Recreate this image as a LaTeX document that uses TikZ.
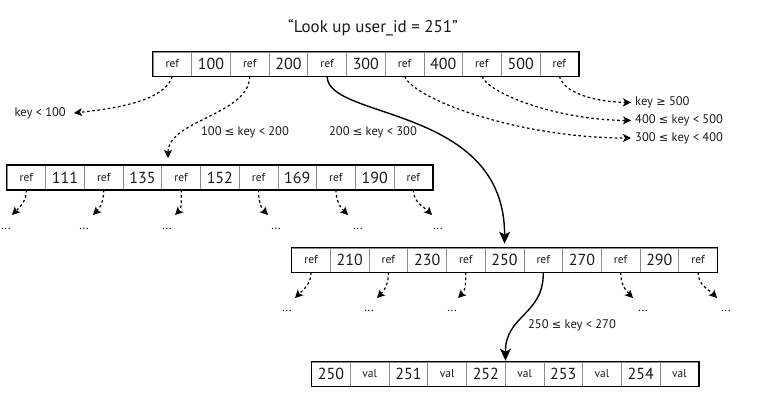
\documentclass[tikz,border=0pt]{standalone}
\usepackage{fontspec}
\setmainfont{PT Sans}
\newfontfamily\relfont[Scale=0.9]{DejaVu Sans}
\newcommand\lte{{\relfont ≤}}
\newcommand\gte{{\relfont ≥}}
\usetikzlibrary{arrows.meta}

% one row of a B-tree page: #1 name prefix, #2 left edge, #3 centre line,
% #4 style of even cells, #5 style of odd cells, #6 cell texts
\newcommand\pagerow[6]{%
  \foreach \t [count=\i from 0] in {#6} {%
    \ifodd\i \def\cellst{#5}\else\def\cellst{#4}\fi
    \node[\cellst] (#1\i) at ({#2+38.7*(\i+0.5)},#3) {\t};
  }%
}

\begin{document}
\begin{tikzpicture}[x=1pt,y=-1pt,
  cell/.style={draw=black!45, line width=0.7pt, minimum width=38.7pt,
    minimum height=24pt, inner sep=0pt, text=black!90},
  keycell/.style={cell, font=\fontsize{16}{16}\selectfont},
  refcell/.style={cell, font=\fontsize{11.5}{11.5}\selectfont},
  frame/.style={draw=black, line width=1.4pt},
  ptr/.style={line width=1.2pt, dash pattern=on 2.6pt off 2.6pt,
    -{Stealth[length=8pt,width=8pt,inset=2pt]}},
  child/.style={line width=1.4pt,
    -{Stealth[length=12pt,width=11pt,inset=3pt]}},
  lbl/.style={font=\fontsize{12.5}{12.5}\selectfont, inner sep=0pt, text=black!90},
  more/.style={font=\fontsize{12}{12}\selectfont, inner sep=0pt}
]
\useasboundingbox (0,0) rectangle (760,400);

% query
\node[font=\fontsize{17}{17}\selectfont, text=black!90] (query) at (373,28)
  {“Look up user\_id = 251”};

% root page
\pagerow{t}{153}{64}{refcell}{keycell}{ref,100,ref,200,ref,300,ref,400,ref,500,ref}
\draw[frame] (t0.north west) rectangle (t10.south east);

% left child page
\pagerow{l}{7}{177.5}{refcell}{keycell}{ref,111,ref,135,ref,152,ref,169,ref,190,ref}
\draw[frame] (l0.north west) rectangle (l10.south east);

% middle child page
\pagerow{m}{291.7}{260}{refcell}{keycell}{ref,210,ref,230,ref,250,ref,270,ref,290,ref}
\draw[frame] (m0.north west) rectangle (m10.south east);

% leaf page
\pagerow{b}{311.7}{374}{keycell}{refcell}{250,val,251,val,252,val,253,val,254,val}
\draw[frame] (b0.north west) rectangle (b9.south east);

% range labels
\node[lbl, anchor=east, inner xsep=8pt] (k0) at (74,113) {key < 100};
\node[lbl] (k1) at (245,132) {100 \lte{} key < 200};
\node[lbl] (k2) at (373,132) {200 \lte{} key < 300};
\node[lbl, anchor=west, inner xsep=4pt] (k3) at (631,138) {300 \lte{} key < 400};
\node[lbl, anchor=west, inner xsep=4pt] (k4) at (631,120.5) {400 \lte{} key < 500};
\node[lbl, anchor=west, inner xsep=4pt] (k5) at (631,102.5) {key \gte{} 500};
\node[lbl] (k6) at (572,325) {250 \lte{} key < 270};

% pointers out of the root page
\coordinate (l4in) at (168,158);
\draw[ptr] (t0.south) .. controls (165,100) and (120,108) .. (k0.east);
\draw[ptr] (t2.south) .. controls (249,115) and (168,120) .. (l4in);
\draw[child, shorten >=4pt] (t4.south) .. controls (327,120) and (505,105) .. (m5.north);
\draw[ptr] (t6.south) .. controls (415,100) and (520,138) .. (k3.west);
\draw[ptr] (t8.south) .. controls (490,95) and (560,120) .. (k4.west);
\draw[ptr] (t10.south) .. controls (565,95) and (600,102) .. (k5.west);

% pointers out of the left child page
\foreach \j/\x/\tx/\dx in {0/12/45/6, 2/93/45/84, 4/175/45/167} {
  \coordinate (lt\j) at (\x,215);
  \node[more] (ld\j) at (\dx,229) {...};
  \draw[ptr] (l\j.south) to[out=-90,in=\tx] (lt\j);
}
\foreach \j/\x/\tx/\dx in {6/268/135/276, 8/348/135/358, 10/432/135/438} {
  \coordinate (lt\j) at (\x,215);
  \node[more] (ld\j) at (\dx,229) {...};
  \draw[ptr] (l\j.south) to[out=-90,in=\tx] (lt\j);
}

% pointers out of the middle child page
\foreach \j/\x/\tx/\dx in {0/295/45/287, 2/377/45/369, 4/458/45/452} {
  \coordinate (mt\j) at (\x,298);
  \node[more] (md\j) at (\dx,311) {...};
  \draw[ptr] (m\j.south) to[out=-90,in=\tx] (mt\j);
}
\foreach \j/\x/\tx/\dx in {8/633/135/643, 10/717/135/726} {
  \coordinate (mt\j) at (\x,298);
  \node[more] (md\j) at (\dx,311) {...};
  \draw[ptr] (m\j.south) to[out=-90,in=\tx] (mt\j);
}
\draw[child, shorten >=1pt] (m6.south) .. controls (544,315) and (505,315) .. (b4.north east);
\end{tikzpicture}
\end{document}
